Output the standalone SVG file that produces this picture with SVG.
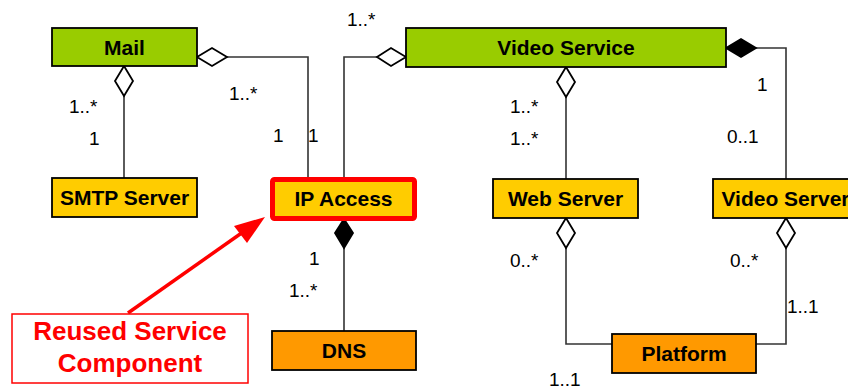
<svg xmlns="http://www.w3.org/2000/svg" width="848" height="390" viewBox="0 0 848 390">
<style>
.box{stroke:#000;stroke-width:1.8}
.g{fill:#99CC00}.y{fill:#FFCC00}.o{fill:#FF9900}
.lbl{font-family:"Liberation Sans",Arial,sans-serif;font-weight:bold;font-size:21px;fill:#000;text-anchor:middle}
.m{font-family:"Liberation Sans",Arial,sans-serif;font-size:19px;fill:#000}
.ln{fill:none;stroke:#333;stroke-width:1.6}
.od{fill:#fff;stroke:#000;stroke-width:1.8}
.fd{fill:#000;stroke:#000;stroke-width:1.8}
</style>
<rect width="848" height="390" fill="#fff"/>
<g id="connectors">
<polyline class="ln" points="227,57 308,57 308,178"/>
<polyline class="ln" points="377,57 344,57 344,178"/>
<line class="ln" x1="124" y1="96" x2="124" y2="178"/>
<line class="ln" x1="566" y1="97" x2="566" y2="179"/>
<polyline class="ln" points="756,48 786,48 786,179"/>
<line class="ln" x1="344" y1="248" x2="344" y2="331"/>
<polyline class="ln" points="566,248 566,344 612,344"/>
<polyline class="ln" points="786,248 786,344 756,344"/>
<polygon class="od" points="197,57 212,48 227,57 212,66"/>
<polygon class="od" points="406,57 391,48 377,57 391,66"/>
<polygon class="od" points="124,66 133,81 124,96 115,81"/>
<polygon class="od" points="566,67 575,82 566,97 557,82"/>
<polygon class="fd" points="726,48 741,39 756,48 741,57"/>
<polygon class="fd" points="344,219 353,233 344,248 335,233"/>
<polygon class="od" points="566,218 575,233 566,248 557,233"/>
<polygon class="od" points="786,218 795,233 786,248 777,233"/>
<text class="m" x="347" y="26">1..*</text>
<text class="m" x="229" y="100">1..*</text>
<text class="m" x="69" y="113">1..*</text>
<text class="m" x="89" y="145">1</text>
<text class="m" x="273" y="142">1</text>
<text class="m" x="308" y="142">1</text>
<text class="m" x="757" y="91">1</text>
<text class="m" x="510" y="113">1..*</text>
<text class="m" x="510" y="145">1..*</text>
<text class="m" x="727" y="143">0..1</text>
<text class="m" x="309" y="265">1</text>
<text class="m" x="289" y="297">1..*</text>
<text class="m" x="510" y="267">0..*</text>
<text class="m" x="730" y="267">0..*</text>
<text class="m" x="787" y="313">1..1</text>
<text class="m" x="549" y="386">1..1</text>
</g>
<g id="mail"><rect class="box g" x="52" y="28" width="145" height="38"/><text class="lbl" x="124.5" y="54.5">Mail</text></g>
<g id="video-service"><rect class="box g" x="406" y="28" width="320" height="39"/><text class="lbl" x="566" y="55">Video Service</text></g>
<g id="smtp-server"><rect class="box y" x="52" y="178" width="145" height="39"/><text class="lbl" x="124.5" y="205">SMTP Server</text></g>
<g id="ip-access"><rect x="272.5" y="179.5" width="142" height="39" rx="2" fill="#FFCC00" stroke="#FF0000" stroke-width="5"/><text class="lbl" x="343.5" y="206">IP Access</text></g>
<g id="web-server"><rect class="box y" x="493" y="179" width="145" height="39"/><text class="lbl" x="565.5" y="206">Web Server</text></g>
<g id="video-server"><rect class="box y" x="713" y="179" width="145" height="39"/><text class="lbl" x="785.5" y="206">Video Server</text></g>
<g id="dns"><rect class="box o" x="272" y="331" width="144" height="39"/><text class="lbl" x="344" y="358">DNS</text></g>
<g id="platform"><rect class="box o" x="612" y="334" width="144" height="39"/><text class="lbl" x="684" y="361">Platform</text></g>
<g id="callout">
<line x1="128" y1="313" x2="243" y2="232" stroke="#FF0000" stroke-width="3.5"/>
<polygon points="265,217 234,226 247,243" fill="#FF0000"/>
<rect x="12" y="314" width="236" height="69" fill="#fff" stroke="#FF0000" stroke-width="1.5"/>
<text x="130" y="340" font-family="Liberation Sans,Arial,sans-serif" font-weight="bold" font-size="26" fill="#FF0000" text-anchor="middle">Reused Service</text>
<text x="130" y="372" font-family="Liberation Sans,Arial,sans-serif" font-weight="bold" font-size="26" fill="#FF0000" text-anchor="middle">Component</text>
</g>
</svg>
